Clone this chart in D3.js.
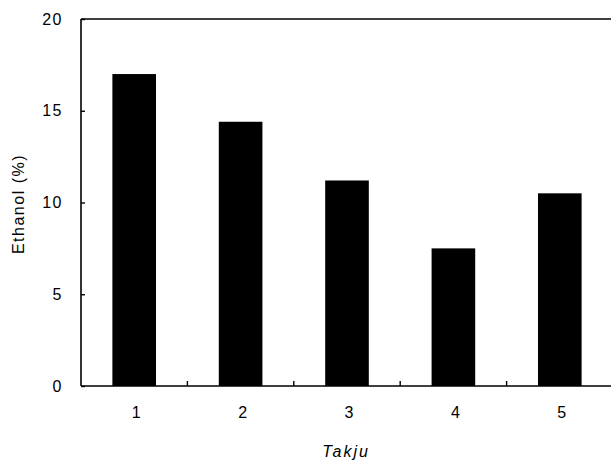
<!DOCTYPE html>
<html><head><meta charset="utf-8">
<script src="https://cdn.jsdelivr.net/npm/d3@7"></script>
<style>body{margin:0;background:#fff}svg{display:block}text{font-family:"Liberation Sans",Arial,sans-serif;fill:#000}</style>
</head><body>
<svg id="c" width="611" height="461"></svg>
<script>
const categories = ["1","2","3","4","5"];
const ethanol = [17.0, 14.4, 11.2, 7.5, 10.5];
const yTicks = [0, 5, 10, 15, 20];
const xTitle = "Takju";
const yTitle = "Ethanol (%)";

const svg = d3.select("#c");
const pL = 81, pR = 613, pT = 19, pB = 386;
const x = d3.scaleBand().domain(categories).range([pL, pR]).paddingInner(0.59).paddingOuter(0.295);
const xb = d3.scaleBand().domain(categories).range([pL, pR]);
const y = d3.scaleLinear().domain([0, 20]).range([pB, pT]);

svg.selectAll("rect.bar").data(ethanol).join("rect").attr("class","bar")
  .attr("x",(d,i)=>x(categories[i])).attr("width",x.bandwidth())
  .attr("y",d=>y(d)).attr("height",d=>y(0)-y(d)).attr("fill","#000");

// frame
svg.append("line").attr("x1",pL).attr("x2",pR).attr("y1",pT).attr("y2",pT).attr("stroke","#000").attr("stroke-width",1.6);
svg.append("line").attr("x1",pL).attr("x2",pR).attr("y1",pB).attr("y2",pB).attr("stroke","#000").attr("stroke-width",1.6);
svg.append("line").attr("x1",pL).attr("x2",pL).attr("y1",pT).attr("y2",pB).attr("stroke","#000").attr("stroke-width",1.6);

// y axis
const ya = svg.append("g").attr("transform",`translate(${pL},0)`)
  .call(d3.axisLeft(y).tickValues(yTicks).tickSize(-4).tickPadding(18).tickFormat(d3.format("d")));
ya.select(".domain").remove();
ya.selectAll("line").attr("stroke-width",1.4);
ya.selectAll("text").attr("font-size",16).attr("letter-spacing","1.5px").attr("font-family","Liberation Sans, Arial, sans-serif");

// x axis: ticks at band boundaries, labels at centers
const xa = svg.append("g").attr("transform",`translate(0,${pB})`)
  .call(d3.axisBottom(x).tickSize(0).tickPadding(21));
xa.select(".domain").remove();
xa.selectAll("text").attr("font-size",16).attr("font-family","Liberation Sans, Arial, sans-serif").attr("dx",2);
svg.selectAll("line.xt").data(categories.slice(0,-1)).join("line").attr("class","xt")
  .attr("x1",d=>xb(d)+xb.bandwidth()).attr("x2",d=>xb(d)+xb.bandwidth())
  .attr("y1",pB).attr("y2",pB-5).attr("stroke","#000").attr("stroke-width",1.4);

svg.append("text").attr("x",346).attr("y",457).attr("text-anchor","middle")
  .attr("font-size",16).attr("letter-spacing","2px").attr("font-style","italic").text(xTitle);
svg.append("text").attr("transform","translate(24,204) rotate(-90)").attr("text-anchor","middle")
  .attr("font-size",16).attr("letter-spacing","1.5px").text(yTitle);
</script>
</body></html>
